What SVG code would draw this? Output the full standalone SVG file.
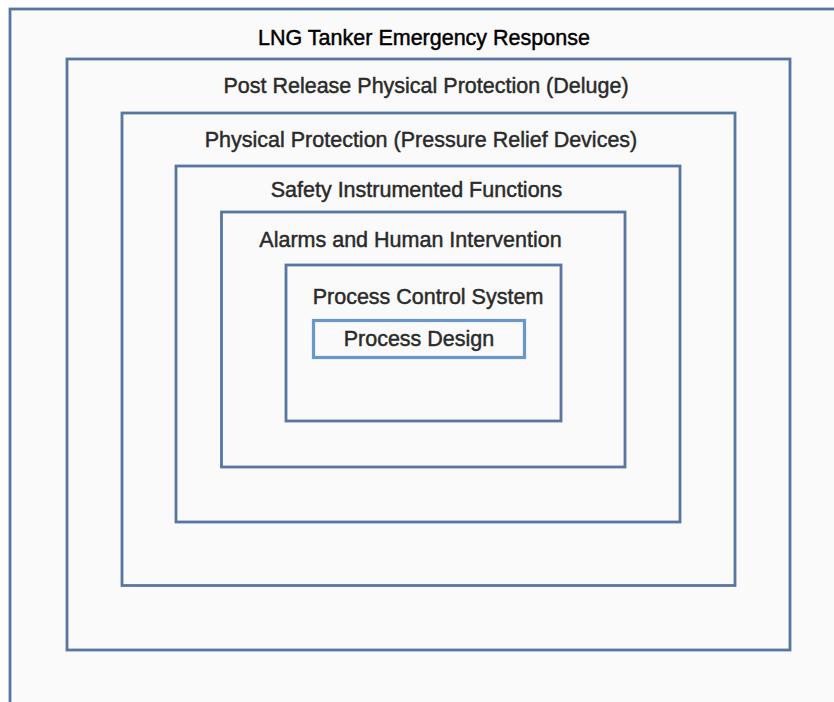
<svg xmlns="http://www.w3.org/2000/svg" width="834" height="702" viewBox="0 0 834 702">
  <style>
    .layer { fill: #fafafa; stroke: #5877a0; stroke-width: 2.8; }
    .core { fill: #fafafa; stroke: #6a97c9; stroke-width: 3.2; }
    .label { font-family: "Liberation Sans", Arial, sans-serif; font-size: 21.5px; fill: #2a2a2a; stroke: #2a2a2a; stroke-width: 0.45; text-anchor: middle; }
    .title { fill: #000000; stroke: #000000; }
  </style>
  <rect x="0" y="0" width="834" height="702" fill="#ffffff"/>
  <g id="emergency-response">
    <rect class="layer" x="10" y="9" width="840" height="710"/>
    <text class="label title" x="424" y="45">LNG Tanker Emergency Response</text>
  </g>
  <g id="post-release-protection">
    <rect class="layer" x="67" y="59" width="723" height="591"/>
    <text class="label" x="426" y="93">Post Release Physical Protection (Deluge)</text>
  </g>
  <g id="physical-protection">
    <rect class="layer" x="122" y="113" width="613" height="472.5"/>
    <text class="label" x="421" y="147">Physical Protection (Pressure Relief Devices)</text>
  </g>
  <g id="safety-instrumented-functions">
    <rect class="layer" x="176" y="166" width="504" height="356"/>
    <text class="label" x="416.5" y="197">Safety Instrumented Functions</text>
  </g>
  <g id="alarms-human-intervention">
    <rect class="layer" x="221.5" y="212" width="403.5" height="255"/>
    <text class="label" x="410.5" y="247">Alarms and Human Intervention</text>
  </g>
  <g id="process-control-system">
    <rect class="layer" x="286" y="265" width="275" height="156"/>
    <text class="label" x="428" y="304">Process Control System</text>
  </g>
  <g id="process-design">
    <rect class="core" x="313.5" y="320.5" width="211" height="37"/>
    <text class="label" x="419" y="346">Process Design</text>
  </g>
  <g id="connectors"/>
</svg>
